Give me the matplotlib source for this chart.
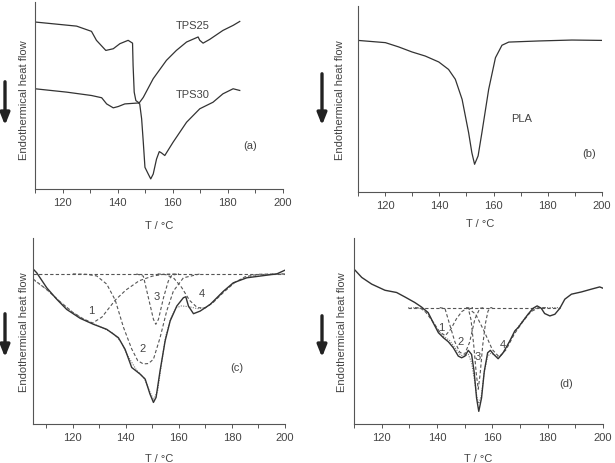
import numpy as np
import matplotlib.pyplot as plt
from matplotlib.ticker import MultipleLocator

plt.rcParams['font.family'] = ['Liberation Sans', 'DejaVu Sans']

# (a) TPS25 / TPS30
tps25_t = [110, 125.1, 130.5, 132.3, 135.7, 138.4, 140.8, 143.8, 145.4, 145.6, 146, 146.6, 147.8,
           149.3, 152.9, 157.7, 161.3, 165, 169.2, 169.8, 171, 173.4, 178.2, 181.9, 184.3]
tps25_v = [89.3, 87.1, 84.3, 79.5, 74.1, 75, 77.7, 79.5, 78, 66, 51.8, 47.3, 46,
           49, 59, 68.8, 74.1, 78.6, 81.3, 79.5, 78, 80, 84.8, 87.5, 89.6]
tps30_t = [110, 121.5, 130.5, 134.2, 136, 138.4, 140.2, 142.6, 147.5, 148, 148.7, 149.3, 149.9,
           151.1, 152, 152.9, 154.1, 155.1, 155.9, 157.1, 160.1, 165, 169.8, 174.6, 178.2, 181.9, 184.3]
tps30_v = [53.6, 51.8, 50, 48.8, 45.5, 43.4, 44.1, 45.5, 46, 45.5, 37.5, 25, 11.6,
           8, 5.4, 8, 16, 20, 19.3, 17.9, 25, 35.7, 42.9, 46.4, 50.9, 53.6, 52.7]

# (b) PLA
pla_t = [110, 120.1, 125, 129.9, 134.8, 139.8, 143.4, 145.9, 148.4, 150.8, 152, 153, 154.3,
         155.7, 158.2, 160.7, 163.1, 165.6, 176.6, 188.9, 200]
pla_v = [81.5, 80.3, 78, 75.3, 73.1, 69.9, 65.9, 60.6, 49.8, 31.9, 21.1, 14.9, 19.4,
         31.9, 55.2, 72.2, 78.9, 80.6, 81.2, 81.7, 81.5]

# (c) measured, fit and deconvoluted peaks
c_t = [105, 106.4, 110.2, 114, 117.7, 122.8, 127.8, 132.8, 137.2, 139.7, 142.2, 145.4, 147.3, 149.1,
       150.4, 151.4, 152.9, 154.8, 156.7, 159.2, 161.7, 162.6, 163.6, 165.5, 168, 171.8, 176.8,
       180.5, 185.6, 193.1, 196.9, 200]
c_v = [83.4, 81.3, 73.2, 67, 61.6, 56.8, 53.6, 50.9, 46.4, 40.2, 30.4, 26.8, 24.1, 16.1,
       11.6, 14.3, 28.6, 44.6, 55.4, 63.4, 67.9, 68.4, 63.4, 59.3, 60.7, 64.3, 71.4,
       75.9, 78.6, 80, 80.7, 82.7]
c_fit_t = [105, 110, 115, 120, 125, 130, 135, 138, 141, 144, 147, 149, 150.5, 152, 153.5, 155, 157,
           159, 161, 164, 167, 170, 173, 177, 181, 185, 190, 195, 200]
c_fit_v = [77.7, 72.5, 66, 60, 55.5, 52.5, 49, 44.5, 36, 29, 24.5, 17.5, 13, 18, 33, 47, 57,
           62.5, 63.5, 63, 62, 62.5, 65.5, 71.5, 76, 78.8, 80.2, 80.6, 80.7]
c_base = 80.7
c_p1_t = [105, 110, 115, 120, 124, 127.5, 131, 136, 140, 145, 150, 154.2, 160]
c_p1_v = [78, 72.5, 66, 60, 56.5, 54.3, 57.5, 66.6, 72, 77, 79.5, 80.5, 80.7]
c_p2_t = [120, 125, 129, 132.8, 136, 139.1, 142.2, 144.5, 146.6, 148.5, 150.4, 152.9, 155.4,
          157.9, 161.7, 168]
c_p2_v = [80.7, 80.5, 79.6, 75.2, 66.6, 52, 40.4, 34, 32.3, 32.5, 34.8, 46.4, 60.7,
          71.4, 78.6, 80.7]
c_p3_t = [144, 146.6, 148.5, 150.4, 151.3, 152.3, 154.2, 156, 157.3, 160]
c_p3_v = [80.7, 79.5, 67.9, 56.3, 53.6, 56.3, 67.9, 76.8, 80, 80.7]
c_p4_t = [152, 155, 158, 161, 164, 167, 170, 173, 177, 181, 185, 190, 200]
c_p4_v = [80.7, 80.3, 78.5, 73.5, 66.5, 62.5, 62.5, 65.5, 71, 76, 79.2, 80.5, 80.7]

# (d) measured, fit and deconvoluted peaks
d_t = [110, 112.8, 116.4, 121.2, 125.4, 128.4, 132, 134.4, 136.8, 138.6, 140.5, 142.3, 144.1,
       145.9, 147.7, 148.9, 150.1, 151.3, 152.5, 153.4, 154.3, 155.1, 156.1, 157.1, 158.3,
       159.3, 160.5, 162.1, 163.9, 166.3, 168.1, 169.3, 171.1, 172.9, 174.7, 176.2, 177.7,
       178.9, 180.8, 182.6, 184.4, 186.2, 188.6, 192.2, 195.8, 198.8, 200]
d_v = [83.3, 78.8, 75.2, 71.9, 70.7, 68.3, 65.3, 62.9, 59.9, 54.5, 49.1, 46.4, 44.2,
       41, 36.5, 35.6, 36.5, 39.6, 37.4, 28.4, 14, 6.8, 14, 28.4, 38.3,
       39.6, 37.4, 35.1, 38.3, 44.6, 50, 51.8, 55.4, 59, 62.2, 63.5, 62.2,
       59.4, 58.1, 59, 62.2, 67.1, 69.8, 71, 72.5, 73.7, 73]
d_fit_t = [129.6, 134, 136.5, 138.6, 140.5, 142.5, 144.5, 146.5, 148.5, 150, 151.3, 152.5, 153.5,
           154.5, 155.1, 156, 157, 158.3, 159.5, 161, 162.5, 164.5, 166.5, 168.5, 171, 173.5,
           176, 184.4]
d_fit_v = [62.6, 62.3, 60, 55, 50, 47, 45, 41, 37, 36.5, 37.5, 33, 24,
           14, 11, 15, 27, 36.5, 38, 37, 36, 39.5, 45, 50.5, 55.5, 60,
           62.6, 62.6]
d_base = 62.6
d_base_t = [129.6, 184.4]
d_p1_t = [132, 134, 136, 138.5, 141, 143, 145, 147, 149, 151, 153]
d_p1_v = [62.6, 62.4, 60, 55, 49.5, 47.5, 51, 56.5, 60.5, 62.3, 62.6]
d_p2_t = [141, 142.9, 144.7, 146.5, 148.3, 150, 151.8, 153.7, 155.5, 157]
d_p2_v = [62.6, 62, 52.9, 44, 38.5, 37.5, 44, 56.5, 62.2, 62.6]
d_p3_t = [150.5, 151.3, 152.3, 153.3, 154.2, 154.9, 155.6, 156.5, 157.5, 158.4, 159.1, 160]
d_p3_v = [62.6, 62.2, 56, 42, 27, 18.7, 27, 42, 54, 60.5, 62.4, 62.6]
d_p4_t = [151, 154, 157, 160, 162.5, 165, 168, 171, 174, 177, 180]
d_p4_v = [62.6, 59, 50, 40, 36, 40, 48.5, 55, 60.5, 62.6, 62.6]

txt = '#444444'
line = '#333333'

fig = plt.figure(figsize=(6.15, 4.64), dpi=100)
W, H = 615, 464


def px_axes(x0, x1, ytop, ybot):
    return fig.add_axes([x0 / W, 1 - ybot / H, (x1 - x0) / W, (ybot - ytop) / H])


ax_a = px_axes(35, 283, 3, 190)
ax_b = px_axes(358, 602, 7, 193)
ax_c = px_axes(33, 285, 239, 425)
ax_d = px_axes(354, 603, 239, 425)

setup = [(ax_a, 110, -0.045, -0.195, 0.48), (ax_b, 110, -0.074, -0.167, 0.5),
         (ax_c, 105, -0.036, -0.183, 0.5), (ax_d, 110, -0.048, -0.183, 0.5)]
for ax, x0, ylx, xly, yly in setup:
    ax.set_xlim(x0, 200)
    ax.set_ylim(0, 100)
    for s in ['top', 'right']:
        ax.spines[s].set_visible(False)
    for s in ['left', 'bottom']:
        ax.spines[s].set_color('#555555')
        ax.spines[s].set_linewidth(0.8)
    ax.set_yticks([])
    ax.xaxis.set_major_locator(MultipleLocator(20))
    ax.xaxis.set_minor_locator(MultipleLocator(10))
    ax.set_xticks([120, 140, 160, 180, 200])
    ax.tick_params(axis='x', which='both', length=3, width=0.7, color='#555555',
                   labelsize=8, labelcolor=txt, pad=2.5)
    ax.set_xlabel('T / °C', fontsize=8, color=txt)
    ax.xaxis.label.set_va('center')
    ax.xaxis.set_label_coords(0.5, xly)
    ax.set_ylabel('Endothermical heat flow', fontsize=8, color=txt)
    ax.yaxis.label.set_va('center')
    ax.yaxis.set_label_coords(ylx, yly)
    ax.patch.set_alpha(0)

# (a)
ax_a.plot(tps25_t, tps25_v, color=line, lw=0.9)
ax_a.plot(tps30_t, tps30_v, color=line, lw=0.9)
ax_a.text(167.4, 87.9, 'TPS25', fontsize=8, color=txt, ha='center', va='center')
ax_a.text(167.4, 50.9, 'TPS30', fontsize=8, color=txt, ha='center', va='center')
ax_a.text(188.2, 23.6, '(a)', fontsize=8, color=txt, ha='center', va='center')

# (b)
ax_b.plot(pla_t, pla_v, color=line, lw=0.9)
ax_b.text(170.2, 40, 'PLA', fontsize=8, color=txt, ha='center', va='center')
ax_b.text(195.1, 21.1, '(b)', fontsize=8, color=txt, ha='center', va='center')

# (c)
dash = dict(color='#555555', lw=0.8, ls=(0, (3, 2)))
dot = dict(color='#777777', lw=0.8, ls=(0, (1, 1.2)))
ax_c.axhline(c_base, **dash)
for t, v in [(c_p1_t, c_p1_v), (c_p2_t, c_p2_v), (c_p3_t, c_p3_v), (c_p4_t, c_p4_v)]:
    ax_c.plot(t, v, **dash)
ax_c.plot(c_fit_t, c_fit_v, **dot)
ax_c.plot(c_t, c_v, color=line, lw=1.0)
for s, x, y in [('1', 126.8, 61.3), ('2', 146.4, 40.7), ('3', 151.7, 68.8), ('4', 168.6, 70.5)]:
    ax_c.text(x, y, s, fontsize=8, color=txt, ha='center', va='center')
ax_c.text(182, 30.9, '(c)', fontsize=8, color=txt, ha='center', va='center')

# (d)
ax_d.plot(d_base_t, [d_base, d_base], **dash)
for t, v in [(d_p1_t, d_p1_v), (d_p2_t, d_p2_v), (d_p3_t, d_p3_v), (d_p4_t, d_p4_v)]:
    ax_d.plot(t, v, **dash)
ax_d.plot(d_fit_t, d_fit_v, **dot)
ax_d.plot(d_t, d_v, color=line, lw=1.0)
for s, x, y in [('1', 141.4, 52.2), ('2', 148.6, 44.6), ('3', 154.6, 36.5), ('4', 163.9, 42.8)]:
    ax_d.text(x, y, s, fontsize=8, color=txt, ha='center', va='center')
ax_d.text(186.8, 22.1, '(d)', fontsize=8, color=txt, ha='center', va='center')

# downward arrows next to the y labels
for x, y0, y1 in [(5, 80, 129), (322, 72, 129), (5, 312, 361), (322, 314, 361)]:
    fig.add_artist(plt.Annotation('', xy=(x / W, 1 - y1 / H), xytext=(x / W, 1 - y0 / H),
                                  xycoords='figure fraction', textcoords='figure fraction',
                                  arrowprops=dict(arrowstyle='-|>,head_width=0.28,head_length=0.7',
                                                  lw=2.4, color='#222222')))

fig.savefig('out.png', dpi=100)
